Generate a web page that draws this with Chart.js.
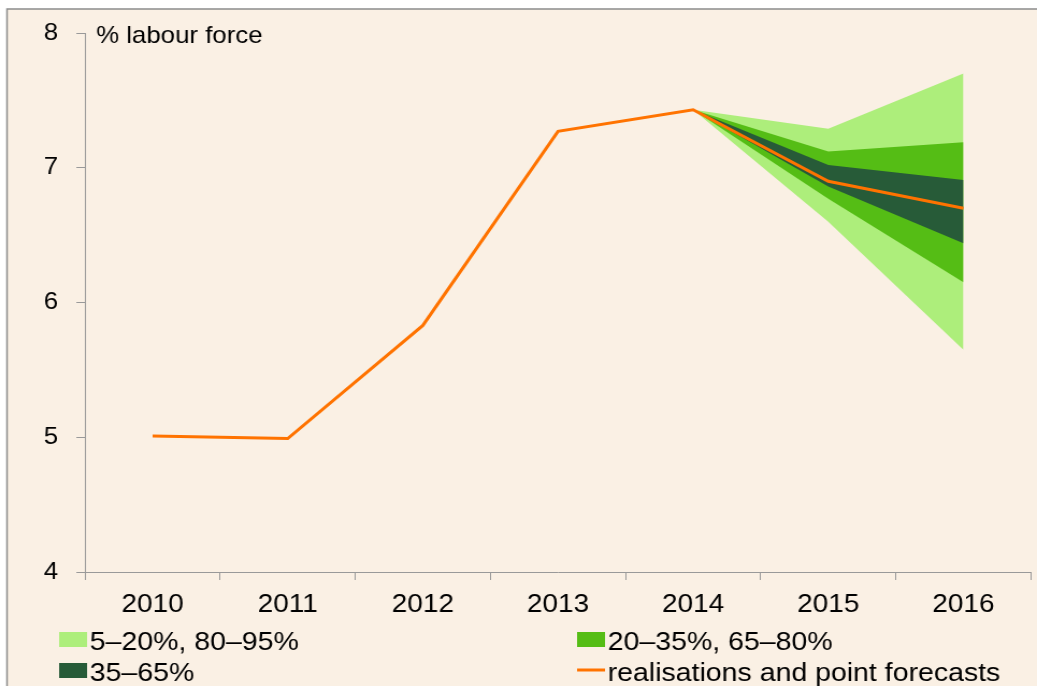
<!DOCTYPE html>
<html>
<head>
<meta charset="utf-8">
<script src="https://cdn.jsdelivr.net/npm/chart.js@4.4.1/dist/chart.umd.min.js"></script>
<style>
    html, body { margin: 0; padding: 0; background: #fff; overflow: hidden; }
    /* the reference is a bit wider than tall, so the whole drawing is stretched sideways */
    #wrap { width: 965px; height: 686px; transform: scaleX(1.07461); transform-origin: 0 0; }
</style>
</head>
<body>
<div id="wrap"><canvas id="fan-chart" width="965" height="686"></canvas></div>
<script>
const years = ['2010', '2011', '2012', '2013', '2014', '2015', '2016'];
const realisations = [5.01, 4.99, 5.83, 7.27, 7.43, 6.90, 6.70];
const outerLow = [null, null, null, null, 7.43, 6.60, 5.65];
const outerHigh = [null, null, null, null, 7.43, 7.29, 7.70];
const midLow = [null, null, null, null, 7.43, 6.77, 6.15];
const midHigh = [null, null, null, null, 7.43, 7.12, 7.19];
const innerLow = [null, null, null, null, 7.43, 6.86, 6.44];
const innerHigh = [null, null, null, null, 7.43, 7.02, 6.91];
const yMin = 4;
const yMax = 8;
const unitLabel = '% labour force';
const legendLabels = ['5–20%, 80–95%', '20–35%, 65–80%', '35–65%', 'realisations and point forecasts'];

const FONT = '"Liberation Sans", Arial, sans-serif';
const LIGHT = '#adee7b';
const MID = '#55bd15';
const DARK = '#275b38';
const ORANGE = '#ff7300';
const AXIS = '#999999';

function band(data, color, order, fillTo) {
    return {
        data: data,
        borderWidth: 0,
        borderColor: 'rgba(0,0,0,0)',
        backgroundColor: color,
        pointRadius: 0,
        fill: fillTo,
        order: order,
        tension: 0
    };
}

const framePlugin = {
    id: 'frame',
    beforeDraw(chart) {
        const ctx = chart.ctx;
        ctx.save();
        ctx.fillStyle = '#faf0e4';
        ctx.fillRect(6.5, 9, chart.width, chart.height);
        ctx.strokeStyle = '#8c8c8c';
        ctx.lineWidth = 1.5;
        ctx.beginPath();
        ctx.moveTo(6.5, chart.height);
        ctx.lineTo(6.5, 9);
        ctx.lineTo(chart.width, 9);
        ctx.stroke();
        ctx.restore();
    },
    afterDraw(chart) {
        const ctx = chart.ctx;
        ctx.save();
        ctx.fillStyle = '#000';
        ctx.textBaseline = 'alphabetic';
        ctx.textAlign = 'left';
        ctx.font = '24px ' + FONT;
        ctx.fillText(unitLabel, 89.5, 43);

        // legend, two columns
        ctx.font = '26.5px ' + FONT;
        const items = [
            { x: 55, y: 650, color: LIGHT, label: legendLabels[0] },
            { x: 537, y: 650, color: MID, label: legendLabels[1] },
            { x: 55, y: 681, color: DARK, label: legendLabels[2] },
            { x: 537, y: 681, color: ORANGE, label: legendLabels[3], line: true }
        ];
        items.forEach(it => {
            if (it.line) {
                ctx.fillStyle = it.color;
                ctx.fillRect(it.x, it.y - 12.5, 26, 3);
            } else {
                ctx.fillStyle = it.color;
                ctx.fillRect(it.x, it.y - 18, 26, 15);
            }
            ctx.fillStyle = '#000';
            ctx.fillText(it.label, it.x + 28.5, it.y);
        });
        ctx.restore();
    }
};

const ctx = document.getElementById('fan-chart');
new Chart(ctx, {
    type: 'line',
    data: {
        labels: years,
        datasets: [
            {
                data: realisations,
                borderColor: ORANGE,
                borderWidth: 3,
                pointRadius: 0,
                fill: false,
                order: 0,
                tension: 0
            },
            band(innerLow, DARK, 1, false),
            band(innerHigh, DARK, 1, '-1'),
            band(midLow, MID, 2, false),
            band(midHigh, MID, 2, '-1'),
            band(outerLow, LIGHT, 3, false),
            band(outerHigh, LIGHT, 3, '-1')
        ]
    },
    options: {
        responsive: false,
        animation: false,
        devicePixelRatio: 1,
        layout: { padding: { left: 0, top: 33, right: 5.6, bottom: 66 } },
        plugins: {
            legend: { display: false },
            tooltip: { enabled: false },
            filler: { propagate: false }
        },
        scales: {
            x: {
                offset: true,
                grid: { display: true, drawOnChartArea: false, drawTicks: true, tickLength: 8, color: AXIS, offset: true },
                border: { display: true, color: AXIS, width: 1 },
                ticks: { color: '#000', font: { size: 26, family: FONT }, padding: 9, maxRotation: 0, autoSkip: false },
                afterFit: s => { s.height = 48; }
            },
            y: {
                min: yMin,
                max: yMax,
                grid: { display: true, drawOnChartArea: false, drawTicks: true, tickLength: 8, color: AXIS },
                border: { display: true, color: AXIS, width: 1 },
                ticks: { stepSize: 1, color: '#000', font: { size: 24, family: FONT }, padding: 17 },
                afterFit: s => { s.width = 79.1; }
            }
        }
    },
    plugins: [framePlugin]
});
</script>
</body>
</html>
